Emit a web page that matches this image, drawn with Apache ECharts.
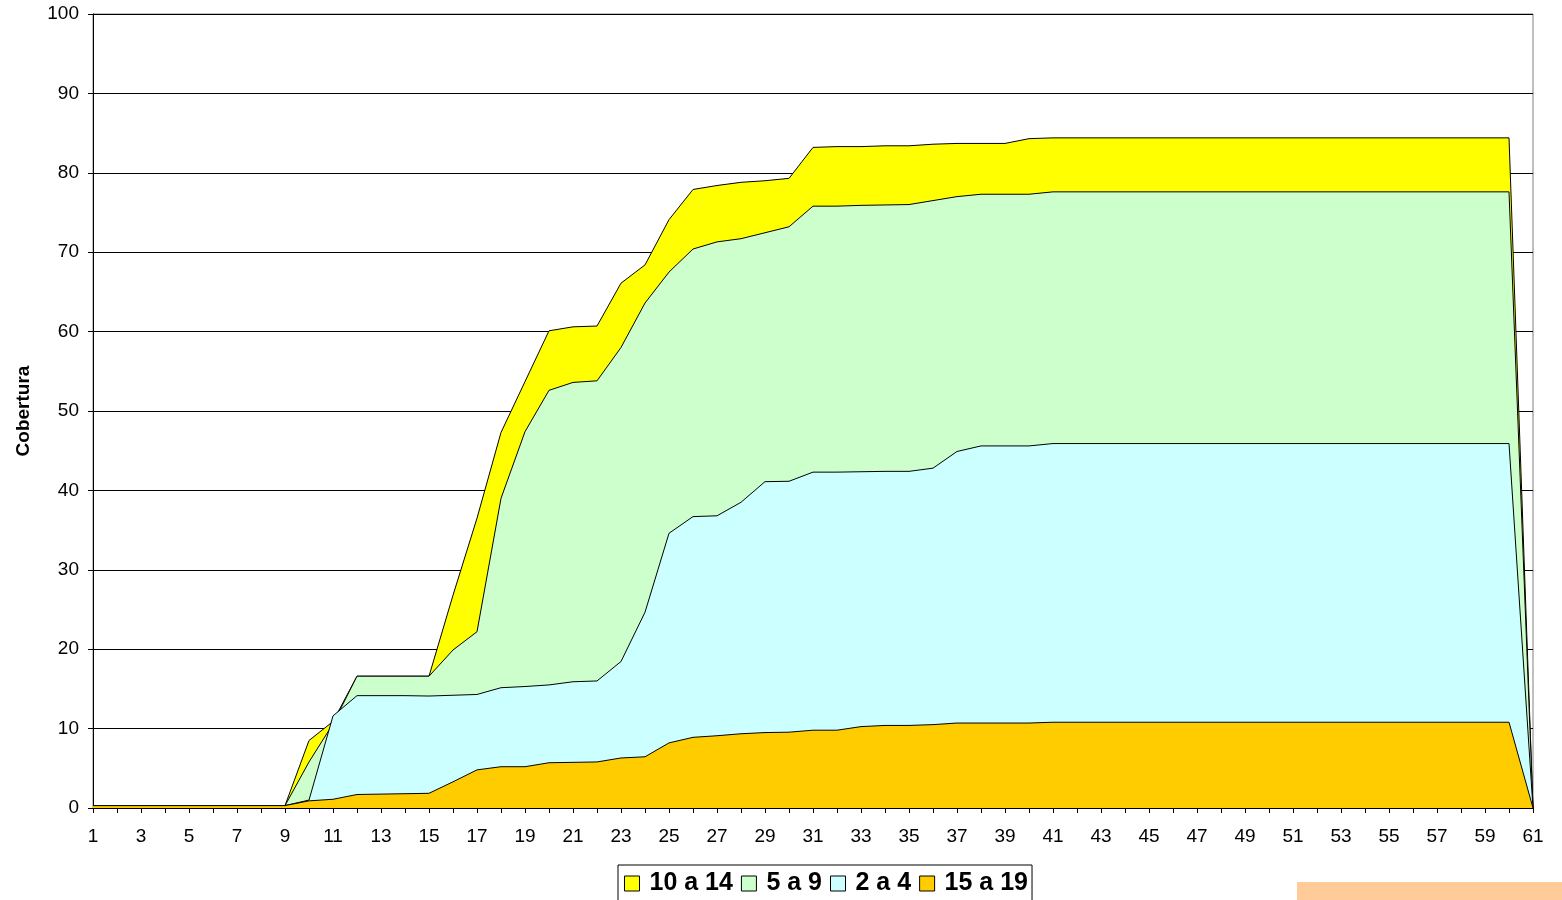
<!DOCTYPE html>
<html>
<head>
<meta charset="utf-8">
<script src="https://cdn.jsdelivr.net/npm/echarts@6/dist/echarts.min.js"></script>
<style>html,body{margin:0;padding:0;background:#fff;}#c{width:1562px;height:900px;}</style>
</head>
<body>
<div id="c"></div>
<script>
const categories = ['1','2','3','4','5','6','7','8','9','10','11','12','13','14','15','16','17','18','19','20','21','22','23','24','25','26','27','28','29','30','31','32','33','34','35','36','37','38','39','40','41','42','43','44','45','46','47','48','49','50','51','52','53','54','55','56','57','58','59','60','61'];
const yTicks = [0,10,20,30,40,50,60,70,80,90,100];
const s10a14 = [0.3,0.3,0.3,0.3,0.3,0.3,0.3,0.3,0.3,8.5,10.9,16.6,16.6,16.6,16.6,26.8,36.5,47.3,53.7,60.1,60.6,60.7,66.1,68.4,74.1,77.9,78.4,78.8,79.0,79.3,83.2,83.3,83.3,83.4,83.4,83.6,83.7,83.7,83.7,84.3,84.4,84.4,84.4,84.4,84.4,84.4,84.4,84.4,84.4,84.4,84.4,84.4,84.4,84.4,84.4,84.4,84.4,84.4,84.4,84.4,0];
const s5a9 = [0.3,0.3,0.3,0.3,0.3,0.3,0.3,0.3,0.3,5.8,10.6,16.6,16.6,16.6,16.6,19.9,22.2,39.0,47.4,52.6,53.6,53.8,58.0,63.6,67.5,70.4,71.3,71.7,72.45,73.2,75.8,75.8,75.9,75.95,76.0,76.5,77.0,77.3,77.3,77.3,77.6,77.6,77.6,77.6,77.6,77.6,77.6,77.6,77.6,77.6,77.6,77.6,77.6,77.6,77.6,77.6,77.6,77.6,77.6,77.6,0];
const s2a4 = [0.3,0.3,0.3,0.3,0.3,0.3,0.3,0.3,0.3,1.0,11.6,14.15,14.15,14.15,14.1,14.2,14.3,15.15,15.3,15.5,15.9,16.0,18.45,24.65,34.6,36.7,36.8,38.5,41.1,41.15,42.3,42.3,42.35,42.4,42.4,42.8,44.9,45.6,45.6,45.6,45.9,45.9,45.9,45.9,45.9,45.9,45.9,45.9,45.9,45.9,45.9,45.9,45.9,45.9,45.9,45.9,45.9,45.9,45.9,45.9,0];
const s15a19 = [0.3,0.3,0.3,0.3,0.3,0.3,0.3,0.3,0.3,0.9,1.1,1.7,1.75,1.8,1.85,3.3,4.8,5.2,5.2,5.7,5.75,5.8,6.3,6.45,8.2,8.9,9.1,9.35,9.5,9.55,9.8,9.8,10.25,10.4,10.4,10.5,10.7,10.7,10.7,10.7,10.8,10.8,10.8,10.8,10.8,10.8,10.8,10.8,10.8,10.8,10.8,10.8,10.8,10.8,10.8,10.8,10.8,10.8,10.8,10.8,0];
const seriesNames = ['10 a 14','5 a 9','2 a 4','15 a 19'];
const seriesData = [s10a14, s5a9, s2a4, s15a19];
const fills = ['#FFFF00','#CCFFCC','#CCFFFF','#FFCC00'];

const chart = echarts.init(document.getElementById('c'), null, {renderer:'canvas'});
const font = 'Arial, "Liberation Sans", sans-serif';
chart.setOption({
  animation:false,
  backgroundColor:'#fff',
  grid:{left:93,right:29,top:14,bottom:92,show:true,borderColor:'#808080',borderWidth:1,backgroundColor:'transparent'},
  legend:{
    data:seriesNames,
    left:618, top:865,
    icon:'rect', itemWidth:15, itemHeight:15, itemGap:8,
    padding:[6,4,6,6],
    borderColor:'#000', borderWidth:1,
    itemStyle:{borderColor:'#000',borderWidth:1},
    textStyle:{fontFamily:font,fontSize:25,fontWeight:'bold',color:'#000',padding:[0,0,0,5]}
  },
  xAxis:{
    type:'category', data:categories, boundaryGap:false,
    axisLine:{lineStyle:{color:'#000',width:1}},
    axisTick:{show:true,interval:0,length:5,lineStyle:{color:'#000'}},
    axisLabel:{interval:1,fontFamily:font,fontSize:19,color:'#000',margin:19},
    splitLine:{show:false}
  },
  yAxis:{
    type:'value', min:0, max:100, interval:10,
    name:'Cobertura', nameLocation:'middle', nameGap:60, nameRotate:90,
    nameTextStyle:{fontFamily:font,fontSize:19,fontWeight:'bold',color:'#000'},
    axisLine:{show:true,lineStyle:{color:'#000',width:1}},
    axisTick:{show:true,length:5,lineStyle:{color:'#000'}},
    axisLabel:{fontFamily:font,fontSize:19,color:'#000',margin:14,
      formatter:function(v){return yTicks.indexOf(v)>=0?String(v):'';}},
    splitLine:{show:true,lineStyle:{color:'#000',width:1}}
  },
  series: seriesNames.map(function(n,i){
    return {
      name:n, type:'line', data:seriesData[i], symbol:'none', showSymbol:false,
      itemStyle:{color:fills[i],borderColor:'#000'},
      lineStyle:{color:'#000',width:1},
      areaStyle:{color:fills[i],opacity:1},
      z:2+i
    };
  }),
  graphic:[{type:'rect',shape:{x:1297,y:882,width:265,height:18},style:{fill:'#FFCC99'},silent:true}]
});
</script>
</body>
</html>
